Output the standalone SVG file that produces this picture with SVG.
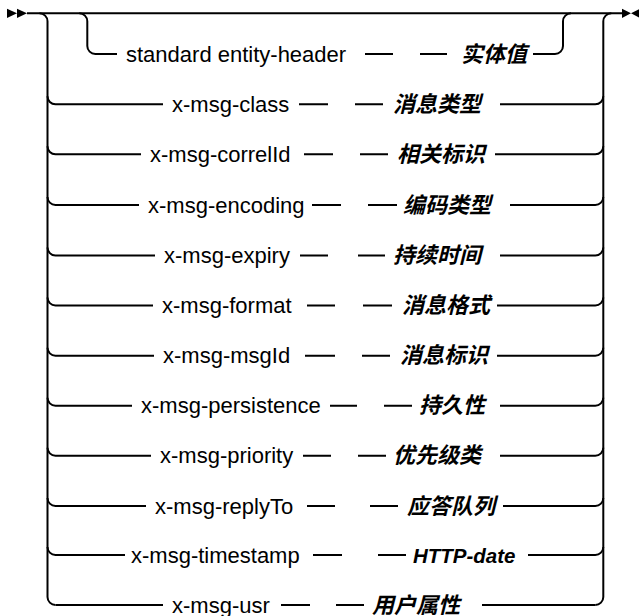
<svg xmlns="http://www.w3.org/2000/svg" width="639" height="616" viewBox="0 0 639 616">
<style>
.c{fill:none;stroke:#000;stroke-width:2}
.m{fill:#000}
.t{font-family:"Liberation Sans",Arial,sans-serif;font-size:22px;fill:#000}
.v{font-family:"Liberation Sans","Noto Sans CJK SC",sans-serif;font-size:22px;font-style:italic;font-weight:bold;fill:#000}
.h{font-family:"Liberation Sans",Arial,sans-serif;font-size:20.5px;font-style:italic;font-weight:bold;fill:#000}
</style>
<rect width="639" height="616" fill="#fff"/>
<g id="connectors">
<path class="m" d="M7,8.7 L17,13.3 L7,17.9 Z M17,8.7 L27,13.3 L17,17.9 Z"/>
<path class="m" d="M622,8.7 L631,13.3 L622,17.9 Z M640,8.7 L631,13.3 L640,17.9 Z"/>
<path class="c" d="M27,13.3 H623"/>
<path class="c" d="M39.5,13.3 A8,8 0 0 1 47.5,21.3 V597 A8,8 0 0 0 55.5,605"/>
<path class="c" d="M611.3,13.3 A8,8 0 0 0 603.3,21.3 V597 A8,8 0 0 1 595.3,605"/>
<path class="c" d="M79.3,13.3 A8,8 0 0 1 87.3,21.3 V46 A8,8 0 0 0 95.3,54 H117"/>
<path class="c" d="M533,54 H555 A8,8 0 0 0 563,46 V21.3 A8,8 0 0 1 571,13.3"/>
<path class="c" d="M365,54 H393 M420,54 H447"/>
<path class="c" d="M47.5,96.3 A8,8 0 0 0 55.5,104.3 H163 M299,104.3 H328 M355,104.3 H383 M500,104.3 H595.3 A8,8 0 0 0 603.3,96.3"/>
<path class="c" d="M47.5,146.3 A8,8 0 0 0 55.5,154.3 H141 M304,154.3 H333 M360,154.3 H388 M495,154.3 H595.3 A8,8 0 0 0 603.3,146.3"/>
<path class="c" d="M47.5,197 A8,8 0 0 0 55.5,205 H139 M312,205 H341 M368,205 H397 M510,205 H595.3 A8,8 0 0 0 603.3,197"/>
<path class="c" d="M47.5,247.5 A8,8 0 0 0 55.5,255.5 H155 M300,255.5 H328 M358,255.5 H385 M500,255.5 H595.3 A8,8 0 0 0 603.3,247.5"/>
<path class="c" d="M47.5,297.5 A8,8 0 0 0 55.5,305.5 H153 M307,305.5 H335 M363,305.5 H392 M497,305.5 H595.3 A8,8 0 0 0 603.3,297.5"/>
<path class="c" d="M47.5,347.7 A8,8 0 0 0 55.5,355.7 H154 M305,355.7 H335 M362,355.7 H390 M497,355.7 H595.3 A8,8 0 0 0 603.3,347.7"/>
<path class="c" d="M47.5,397.7 A8,8 0 0 0 55.5,405.7 H132 M330,405.7 H357 M384,405.7 H412 M500,405.7 H595.3 A8,8 0 0 0 603.3,397.7"/>
<path class="c" d="M47.5,447.7 A8,8 0 0 0 55.5,455.7 H151 M303,455.7 H331 M358,455.7 H386 M500,455.7 H595.3 A8,8 0 0 0 603.3,447.7"/>
<path class="c" d="M47.5,498 A8,8 0 0 0 55.5,506 H146 M307,506 H335 M370,506 H398 M503,506 H595.3 A8,8 0 0 0 603.3,498"/>
<path class="c" d="M47.5,547 A8,8 0 0 0 55.5,555 H125 M313,555 H342 M378,555 H406 M528,555 H595.3 A8,8 0 0 0 603.3,547"/>
<path class="c" d="M55.5,605 H163 M281,605 H310 M336,605 H364 M482,605 H595.3"/>
</g>
<g id="row-standard-entity-header"><text class="t" x="126" y="61.5">standard entity-header</text><text class="v" x="461" y="61.5">实体值</text></g>
<g id="row-x-msg-class"><text class="t" x="172" y="111.8">x-msg-class</text><text class="v" x="393" y="111.8">消息类型</text></g>
<g id="row-x-msg-correlId"><text class="t" x="150" y="161.8">x-msg-correlId</text><text class="v" x="397" y="161.8">相关标识</text></g>
<g id="row-x-msg-encoding"><text class="t" x="148" y="212.5">x-msg-encoding</text><text class="v" x="403" y="212.5">编码类型</text></g>
<g id="row-x-msg-expiry"><text class="t" x="164" y="263">x-msg-expiry</text><text class="v" x="393" y="263">持续时间</text></g>
<g id="row-x-msg-format"><text class="t" x="162" y="313">x-msg-format</text><text class="v" x="402" y="313">消息格式</text></g>
<g id="row-x-msg-msgId"><text class="t" x="163" y="363.2">x-msg-msgId</text><text class="v" x="400" y="363.2">消息标识</text></g>
<g id="row-x-msg-persistence"><text class="t" x="141" y="413.2">x-msg-persistence</text><text class="v" x="419" y="413.2">持久性</text></g>
<g id="row-x-msg-priority"><text class="t" x="160" y="463.2">x-msg-priority</text><text class="v" x="393" y="463.2">优先级类</text></g>
<g id="row-x-msg-replyTo"><text class="t" x="155" y="513.5">x-msg-replyTo</text><text class="v" x="407" y="513.5">应答队列</text></g>
<g id="row-x-msg-timestamp"><text class="t" x="131" y="562.5">x-msg-timestamp</text><text class="h" x="413" y="562.5">HTTP-date</text></g>
<g id="row-x-msg-usr"><text class="t" x="172" y="612.5">x-msg-usr</text><text class="v" x="372" y="612.5">用户属性</text></g>
</svg>
